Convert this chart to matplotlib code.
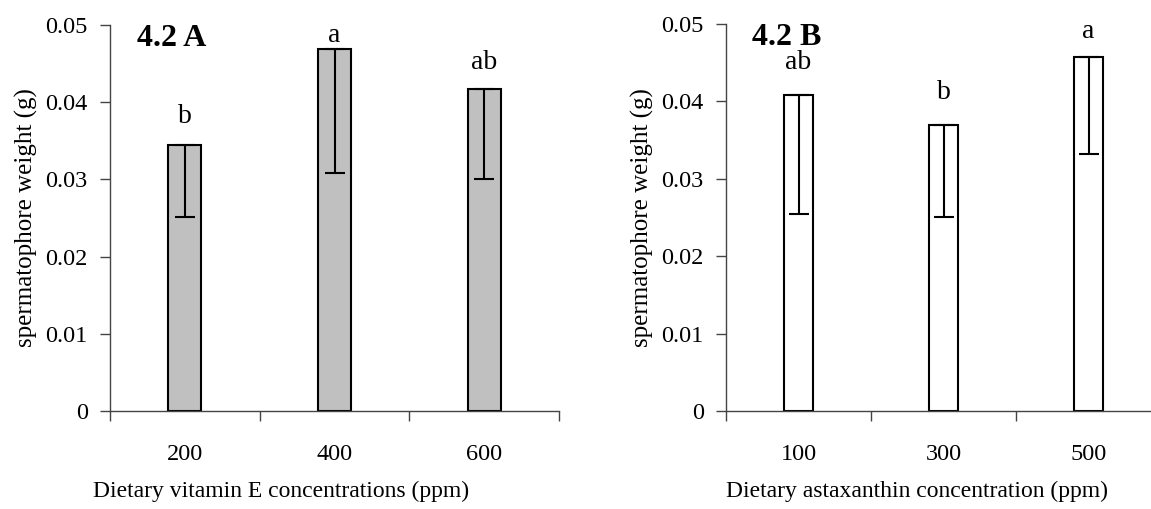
import matplotlib
matplotlib.use('Agg')
import matplotlib.pyplot as plt

plt.rcParams['font.family'] = ['Liberation Serif', 'DejaVu Serif']

# 数据：维生素E
vitE_doses = ['200', '400', '600']
vitE_mean = [0.0345, 0.0469, 0.0417]
vitE_low = [0.0251, 0.0308, 0.0300]
vitE_letters = ['b', 'a', 'ab']
vitE_letter_y = [0.0381, 0.0487, 0.0452]

# 数据：虾青素
asta_doses = ['100', '300', '500']
asta_mean = [0.0408, 0.0369, 0.0457]
asta_low = [0.0254, 0.0251, 0.0332]
asta_letters = ['ab', 'b', 'a']
asta_letter_y = [0.0450, 0.0411, 0.0490]

W, H = 1151, 509
fig = plt.figure(figsize=(W / 100, H / 100), dpi=100)


def px_axes(x0, x1, y0, y1):
    return fig.add_axes([x0 / W, 1 - y1 / H, (x1 - x0) / W, (y1 - y0) / H])


def draw_panel(ax, labels, mean, low, letters, letter_y, color, width, title, xlabel, xlabel_x):
    pos = [i + 0.5 for i in range(len(labels))]
    ax.bar(pos, mean, width=width, color=color, edgecolor='black', linewidth=1.5, zorder=2)
    err = [[m - l for m, l in zip(mean, low)], [0] * len(mean)]
    ax.errorbar(pos, mean, yerr=err, fmt='none', ecolor='black', elinewidth=1.5,
                capsize=7, capthick=1.5, zorder=3)
    for p, t, y in zip(pos, letters, letter_y):
        ax.text(p, y, t, ha='center', va='center', fontsize=20)
    ax.set_xlim(0, 3)
    ax.set_ylim(0, 0.05)
    ax.set_yticks([0, 0.01, 0.02, 0.03, 0.04, 0.05])
    ax.set_yticklabels(['0', '0.01', '0.02', '0.03', '0.04', '0.05'])
    ax.set_xticks(pos)
    ax.set_xticklabels(labels)
    ax.set_xticks([0, 1, 2, 3], minor=True)
    ax.tick_params(axis='x', which='major', length=0, pad=24, labelsize=17.5)
    ax.tick_params(axis='x', which='minor', length=7, width=1, color='#444444')
    ax.tick_params(axis='y', length=7, width=1, color='#444444', labelsize=17.5, pad=9)
    for s in ['top', 'right']:
        ax.spines[s].set_visible(False)
    for s in ['left', 'bottom']:
        ax.spines[s].set_color('#444444')
        ax.spines[s].set_linewidth(1)
    ax.set_ylabel('spermatophore weight (g)', fontsize=18, labelpad=5)
    ax.text(0.18, 0.0483, title, fontsize=23, fontweight='bold', ha='left', va='center')
    ax.set_xlabel(xlabel, fontsize=17)
    ax.xaxis.set_label_coords(xlabel_x, -0.18)


ax1 = px_axes(110, 559, 25, 411)
draw_panel(ax1, vitE_doses, vitE_mean, vitE_low, vitE_letters, vitE_letter_y, '#c0c0c0', 0.22,
           '4.2 A', 'Dietary vitamin E concentrations (ppm)', 0.38)

ax2 = px_axes(726, 1161, 24, 411)
draw_panel(ax2, asta_doses, asta_mean, asta_low, asta_letters, asta_letter_y, 'white', 0.2,
           '4.2 B', 'Dietary astaxanthin concentration (ppm)', 0.44)

fig.savefig('out.png', dpi=100)
